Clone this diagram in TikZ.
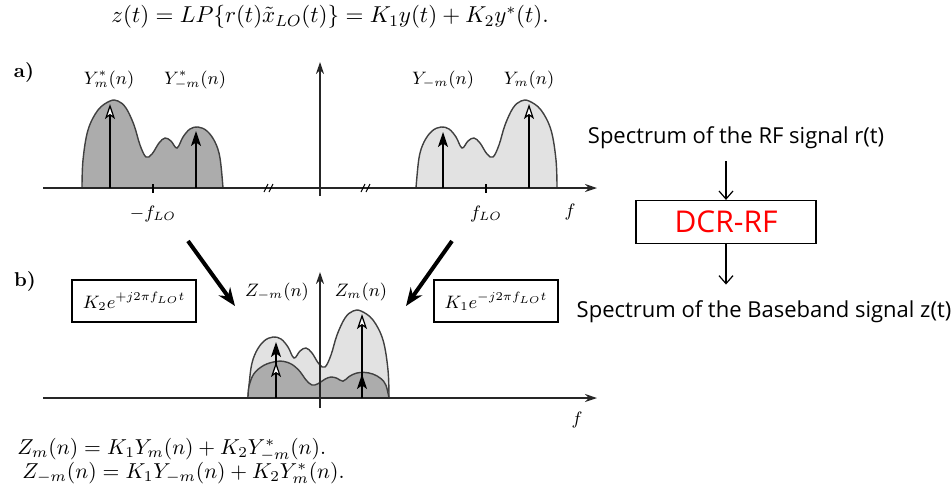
\RequirePackage{fix-cm}
\documentclass[tikz,border=0pt]{standalone}
\usepackage{amsmath,amssymb}
\usepackage{fontspec}
\newfontfamily\labelfont{Open Sans}
\usepackage{tikz}
\usetikzlibrary{arrows.meta,positioning}
\definecolor{specdark}{RGB}{172,172,172}
\definecolor{speclight}{RGB}{226,226,226}
\definecolor{dcrred}{RGB}{255,0,0}

\begin{document}
\begin{tikzpicture}[
  x=0.5pt, y=-0.5pt,
  axis/.style={-{Stealth[length=6pt,width=4pt]}, line width=0.7pt, black!85},
  spec/.style={draw=black!75, line width=0.7pt},
  darkspec/.style={spec, fill=specdark},
  lightspec/.style={spec, fill=speclight},
  tone/.style={-{Stealth[length=7.5pt,width=5pt,inset=1.8pt]}, line width=0.6pt},
  tonew/.style={-{Stealth[length=7.5pt,width=5pt,inset=1.8pt,fill=white]}, line width=0.6pt},
  shiftarr/.style={-{Stealth[length=9pt,width=7pt]}, line width=2pt},
  lbl/.style={font=\fontsize{9}{11}\selectfont, inner sep=0pt},
  eqn/.style={font=\fontsize{10.8}{12}\selectfont, inner sep=0pt, anchor=west},
  osc/.style={draw, line width=0.6pt, minimum width=62pt, minimum height=21pt,
              inner sep=0pt, font=\fontsize{9}{11}\selectfont},
  flow/.style={font=\labelfont\fontsize{11}{13}\selectfont, inner sep=0pt},
  flowarr/.style={-{Straight Barb[length=4pt,width=7pt]}, line width=0.6pt}
]
\useasboundingbox (0,0) rectangle (952,500);

\node[font=\fontsize{11.5}{14}\selectfont] (zeq) at (330,17)
  {$z(t)=LP\{r(t)\tilde{x}_{LO}(t)\}=K_1y(t)+K_2y^{*}(t).$};

% panel a
\node[font=\bfseries\fontsize{10}{12}\selectfont] (pa) at (24,72) {a)};
\draw[lightspec] plot[smooth, tension=0.6] coordinates {(557,188) (556,160) (551,130) (541,110)
  (529,101) (521,101) (513,108) (505,125) (499,145) (493,157) (487,154) (480,143) (474,138)
  (468,141) (462,148) (456,137) (449,129) (441,127) (432,131) (424,142) (419,158) (416,188)};
\draw[darkspec] plot[smooth, tension=0.6] coordinates {(82,188) (83,160) (88,130) (98,110)
  (110,101) (118,101) (126,108) (134,125) (140,145) (146,157) (152,154) (159,143) (165,138)
  (171,141) (177,148) (183,137) (190,129) (198,127) (207,131) (215,142) (220,158) (223,188)};
\draw[axis] (43,188) -- (597,188);
\draw[axis] (320,196) -- (320,62);
\foreach \bx in {270,367} {
  \draw[line width=0.5pt] (\bx-6,192) -- (\bx-2,184);
  \draw[line width=0.5pt] (\bx-1,192) -- (\bx+3,184);
}
\draw[line width=0.6pt] (153,184) -- (153,193);
\draw[line width=0.6pt] (486,184) -- (486,193);
\draw[tonew] (110,188) -- (110,104);
\draw[tone] (196,188) -- (196,131);
\draw[tone] (443,188) -- (443,132);
\draw[tonew] (529,188) -- (529,104);
\node[lbl] (ymsc) at (109,80) {$Y^{*}_{m}(n)$};
\node[lbl] (ynsc) at (195,80) {$Y^{*}_{-m}(n)$};
\node[lbl] (yn) at (443,80) {$Y_{-m}(n)$};
\node[lbl] (ym) at (529,80) {$Y_{m}(n)$};
\node[lbl] (nflo) at (153,214) {$-f_{LO}$};
\node[lbl] (flo) at (486,214) {$f_{LO}$};
\node[lbl] (fa) at (570,212) {$f$};

% shifts
\coordinate (la0) at (188,241);
\coordinate (la1) at (235,306);
\coordinate (ra0) at (452,241);
\coordinate (ra1) at (406,306);
\draw[shiftarr] (la0) -- (la1);
\draw[shiftarr] (ra0) -- (ra1);

% panel b
\node[font=\bfseries\fontsize{10}{12}\selectfont] (pb) at (25,281) {b)};
\node[osc] (k2) at (134,301) {$K_2e^{+j2\pi f_{LO}t}$};
\node[osc] (k1) at (496,301) {$K_1e^{-j2\pi f_{LO}t}$};
\begin{scope}[shift={(-168,210)}]
\draw[lightspec] plot[smooth, tension=0.6] coordinates {(557,188) (556,160) (551,130) (541,110)
  (529,101) (521,101) (513,108) (505,125) (499,145) (493,157) (487,154) (480,143) (474,138)
  (468,141) (462,148) (456,137) (449,129) (441,127) (432,131) (424,142) (419,158) (416,188)};
\end{scope}
\begin{scope}[shift={(166,398)}, yscale=0.42, shift={(0,-188)}]
\draw[darkspec] plot[smooth, tension=0.6] coordinates {(82,188) (83,160) (88,130) (98,110)
  (110,101) (118,101) (126,108) (134,125) (140,145) (146,157) (152,154) (159,143) (165,138)
  (171,141) (177,148) (183,137) (190,129) (198,127) (207,131) (215,142) (220,158) (223,188)};
\end{scope}
\draw[axis] (43,398) -- (597,398);
\draw[axis] (320,408) -- (320,272);
\draw[tone] (276,398) -- (276,342);
\draw[tonew] (276,398) -- (276,362);
\draw[tonew] (362,398) -- (362,314);
\draw[tone] (362,398) -- (362,374);
\node[lbl] (znm) at (277,292) {$Z_{-m}(n)$};
\node[lbl] (zm) at (361,292) {$Z_{m}(n)$};
\node[lbl] (fb) at (577,420) {$f$};

\node[eqn] (eqm) at (17,450) {$Z_m(n)=K_1Y_m(n)+K_2Y^{*}_{-m}(n).$};
\node[eqn] (eqnm) at (22,473) {$Z_{-m}(n)=K_1Y_{-m}(n)+K_2Y^{*}_{m}(n).$};

% block view
\node[flow] (rfin) at (736,138) {Spectrum of the RF signal r(t)};
\node[draw, line width=0.6pt, minimum width=90pt, minimum height=21.5pt, inner sep=0pt,
      font=\labelfont\fontsize{15}{17}\selectfont, text=dcrred] (dcr) at (726,222) {DCR-RF};
\node[flow] (bbout) at (764,312) {Spectrum of the Baseband signal z(t)};
\draw[flowarr] ([yshift=-6pt]rfin.south -| dcr.north) -- (dcr.north);
\draw[flowarr] (dcr.south) -- ([yshift=8pt]bbout.north -| dcr.south);
\end{tikzpicture}
\end{document}
